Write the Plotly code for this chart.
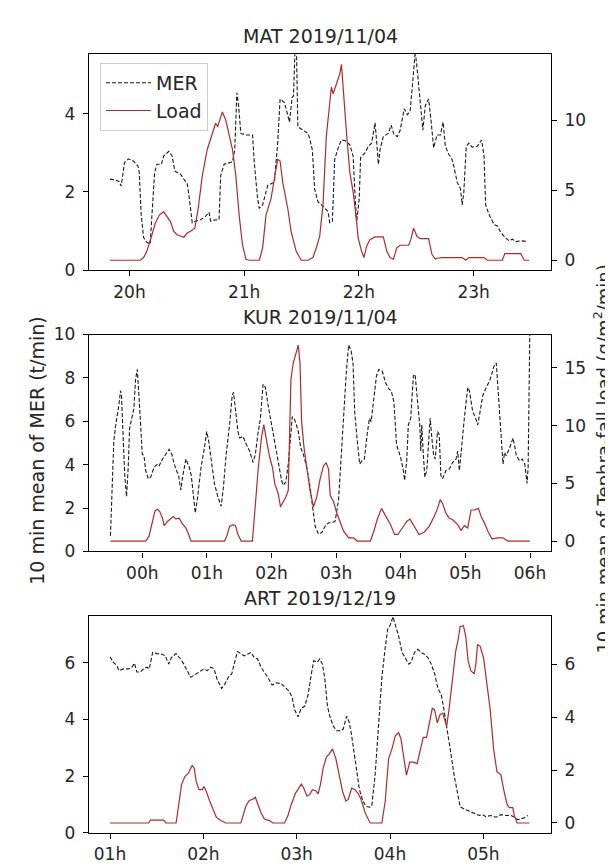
import plotly.graph_objects as go

# ---------------- data ----------------
titles = ["MAT 2019/11/04", "KUR 2019/11/04", "ART 2019/12/19"]

# MAT (hours of day)
mat_mer_t = [19.830,19.874,19.909,19.927,19.939,19.956,19.991,20.035,20.073,20.085,
             20.102,20.123,20.152,20.181,20.196,20.219,20.240,20.278,20.298,20.342,
             20.371,20.395,20.415,20.444,20.474,20.503,20.518,20.547,20.576,20.620,
             20.664,20.693,20.708,20.737,20.781,20.795,20.825,20.898,20.918,20.936,
             20.950,20.971,21.015,21.073,21.088,21.117,21.132,21.161,21.205,21.243,
             21.263,21.292,21.313,21.351,21.380,21.395,21.418,21.430,21.444,21.456,
             21.468,21.512,21.556,21.570,21.594,21.614,21.643,21.687,21.731,21.746,
             21.769,21.789,21.819,21.848,21.877,21.921,21.950,21.965,21.980,22.003,
             22.015,22.053,22.082,22.111,22.141,22.155,22.170,22.184,22.213,22.257,
             22.281,22.307,22.336,22.360,22.395,22.424,22.447,22.477,22.491,22.506,
             22.535,22.558,22.579,22.608,22.629,22.652,22.681,22.711,22.734,22.754,
             22.784,22.807,22.827,22.857,22.886,22.901,22.915,22.936,22.959,22.988,
             23.032,23.070,23.091,23.105,23.135,23.178,23.208,23.237,23.281,23.310,
             23.339,23.368,23.412,23.471]
mat_mer = [2.33,2.31,2.27,2.15,2.38,2.75,2.85,2.79,2.67,2.50,
           1.42,0.83,0.71,0.67,1.42,2.50,2.71,2.71,2.92,3.04,
           2.93,2.54,2.50,2.46,2.33,2.21,1.92,1.21,1.25,1.29,
           1.38,1.48,1.25,1.28,1.29,2.42,2.71,2.77,3.08,4.54,
           4.25,3.50,3.46,3.46,2.75,1.83,1.58,1.67,2.17,2.21,
           2.25,3.25,4.38,4.29,4.00,3.79,4.42,4.46,5.70,5.60,
           3.67,3.58,3.50,3.38,3.08,2.08,1.75,1.63,1.50,1.21,
           1.25,2.83,3.13,3.33,3.32,3.21,2.92,2.00,1.21,1.83,
           2.88,3.00,3.17,3.25,3.77,3.29,2.71,3.08,3.42,3.50,
           3.71,3.46,3.42,3.58,4.13,3.98,4.08,5.08,5.60,5.21,
           4.33,3.58,4.21,4.38,3.83,3.13,3.46,3.46,3.79,3.17,
           2.96,2.88,2.67,2.25,2.08,1.67,2.00,3.17,3.25,3.15,
           3.17,3.33,2.92,1.67,1.42,1.17,1.13,0.96,0.82,0.75,
           0.79,0.73,0.75,0.73]
mat_load_t = [19.830,20.094,20.123,20.152,20.196,20.225,20.260,20.298,20.327,20.357,
              20.386,20.415,20.474,20.503,20.532,20.570,20.599,20.635,20.678,20.722,
              20.751,20.769,20.787,20.810,20.839,20.868,20.898,20.927,20.956,20.985,
              21.015,21.044,21.132,21.161,21.190,21.234,21.263,21.292,21.313,21.336,
              21.380,21.409,21.453,21.497,21.556,21.599,21.629,21.658,21.687,21.716,
              21.760,21.775,21.804,21.833,21.848,21.863,21.892,21.921,21.950,21.974,
              21.994,22.023,22.044,22.067,22.096,22.141,22.213,22.243,22.272,22.301,
              22.330,22.360,22.433,22.453,22.477,22.506,22.535,22.608,22.637,22.667,
              22.681,22.725,22.901,22.930,22.959,23.091,23.120,23.251,23.272,23.412,
              23.442,23.485]
mat_load = [0,0,0.19,0.65,1.82,2.64,3.22,3.46,3.11,2.76,
            2.06,1.82,1.64,1.94,2.06,2.29,3.69,6.03,7.90,9.07,
            9.77,9.53,10.00,10.58,10.00,9.07,7.90,6.03,3.22,1.12,
            0.07,0,0,0.89,3.22,4.39,5.79,7.20,7.08,5.56,
            3.69,2.06,0.65,0,0,0.19,0.89,1.70,3.93,8.83,
            12.34,11.87,12.57,13.27,13.97,12.10,9.07,6.26,4.86,3.22,
            1.59,0.65,0.19,1.00,1.47,1.66,1.66,0.65,0.19,0.07,
            0.89,1.07,1.07,1.47,2.29,1.71,1.54,1.54,0.42,0.07,
            0.14,0.19,0.19,0,0.19,0.19,0,0,0.47,0.47,
            0,0]

# KUR (hours after midnight; negative = previous evening)
kur_mer_t = [-0.493,-0.467,-0.441,-0.415,-0.389,-0.363,-0.337,-0.322,-0.296,-0.270,
             -0.244,-0.218,-0.197,-0.156,-0.130,-0.104,-0.078,-0.052,-0.026,0.000,
             0.026,0.052,0.093,0.130,0.182,0.234,0.260,0.312,0.363,0.415,
             0.457,0.493,0.530,0.561,0.597,0.623,0.675,0.727,0.758,0.789,
             0.820,0.857,0.909,0.961,0.997,1.028,1.064,1.116,1.168,1.220,
             1.256,1.298,1.350,1.391,1.412,1.443,1.480,1.506,1.558,1.610,
             1.661,1.713,1.750,1.791,1.828,1.869,1.906,1.947,1.999,2.051,
             2.103,2.155,2.181,2.222,2.259,2.285,2.321,2.347,2.378,2.414,
             2.451,2.492,2.544,2.596,2.638,2.674,2.726,2.778,2.830,2.882,
             2.934,2.985,3.037,3.074,3.115,3.157,3.193,3.229,3.261,3.287,
             3.323,3.364,3.401,3.437,3.479,3.515,3.541,3.583,3.624,3.660,
             3.712,3.764,3.816,3.852,3.894,3.935,3.972,3.998,4.040,4.060,
             4.092,4.117,4.154,4.195,4.221,4.258,4.294,4.310,4.325,4.346,
             4.372,4.403,4.429,4.455,4.481,4.507,4.533,4.569,4.595,4.621,
             4.647,4.699,4.751,4.803,4.855,4.881,4.907,4.943,4.984,5.036,
             5.062,5.114,5.151,5.192,5.234,5.270,5.322,5.374,5.400,5.442,
             5.478,5.504,5.545,5.582,5.607,5.633,5.685,5.737,5.763,5.789,
             5.841,5.877,5.919,5.955,5.971,5.997]
kur_mer = [0.72,2.68,5.08,5.76,6.21,6.74,7.41,7.19,5.23,3.43,
           2.53,3.88,5.68,6.29,6.59,7.94,8.39,7.19,5.68,4.48,
           4.41,3.73,3.35,3.43,3.88,4.03,3.95,4.26,4.48,4.71,
           4.48,4.03,3.73,3.50,2.83,3.43,4.26,3.88,3.50,2.68,
           1.77,2.53,3.88,4.78,5.53,5.08,4.18,3.13,2.53,2.08,
           2.98,4.48,5.83,7.19,7.34,6.44,5.53,5.23,5.31,4.93,
           4.63,4.11,4.48,5.46,6.14,7.71,7.56,6.74,5.83,5.08,
           4.18,3.28,3.05,3.20,4.03,5.08,6.21,6.14,5.91,5.53,
           4.78,4.48,3.88,2.98,2.08,1.17,0.80,0.87,1.17,1.32,
           1.32,1.40,2.38,4.18,6.59,8.24,9.52,9.29,8.69,6.44,
           5.23,4.03,4.18,4.26,5.38,6.14,5.98,7.19,8.09,8.39,
           8.32,7.79,7.49,7.41,6.89,4.93,4.63,4.33,3.73,3.28,
           4.18,5.83,6.14,8.09,8.17,7.04,5.83,4.63,5.83,4.63,
           3.43,3.73,5.23,6.14,5.23,4.48,4.26,5.53,5.38,3.50,
           3.35,3.73,3.80,4.11,4.26,4.63,3.73,4.93,6.14,7.56,
           7.41,6.44,6.21,5.83,6.66,7.19,7.56,7.86,8.09,8.54,
           8.69,7.64,5.83,4.03,4.56,4.41,4.78,5.23,4.86,4.41,
           4.18,4.26,4.03,3.13,3.88,10.0]
kur_load_t = [-0.493,0.052,0.104,0.156,0.197,0.234,0.270,0.312,0.337,0.389,
              0.441,0.478,0.519,0.571,0.613,0.675,0.717,0.753,1.272,1.308,
              1.350,1.402,1.443,1.480,1.532,1.703,1.739,1.791,1.843,1.880,
              1.921,1.973,2.015,2.051,2.103,2.139,2.181,2.222,2.259,2.300,
              2.336,2.378,2.414,2.440,2.466,2.503,2.544,2.596,2.648,2.700,
              2.752,2.804,2.845,2.882,2.908,2.960,3.011,3.063,3.115,3.193,
              3.271,3.323,3.530,3.583,3.634,3.702,3.764,3.842,3.904,3.956,
              4.024,4.092,4.143,4.180,4.232,4.283,4.361,4.439,4.517,4.569,
              4.611,4.647,4.699,4.751,4.803,4.881,4.933,4.984,5.036,5.088,
              5.140,5.202,5.244,5.296,5.348,5.410,5.504,5.582,5.659,5.997]
kur_load = [0,0,0.42,1.56,2.63,2.75,2.55,1.98,1.33,1.70,
            1.98,2.12,1.92,1.98,1.56,1.13,0.57,0,0,0.42,
            1.27,1.42,1.33,0.57,0,0,2.41,6.09,8.92,10.10,
            8.77,7.22,6.37,4.95,4.10,2.97,3.40,3.82,4.39,14.01,
            15.43,16.27,16.98,15.43,10.33,8.07,6.37,4.39,2.97,3.82,
            5.38,6.51,6.79,6.23,3.96,3.40,2.41,1.56,0.85,0.28,
            0.28,0,0,0.85,1.84,2.83,2.26,1.42,0.57,0.57,
            1.13,1.70,1.90,1.56,0.99,0.57,0.76,1.27,2.12,2.83,
            3.59,3.26,2.41,1.98,1.84,1.42,0.93,1.33,1.13,2.69,
            2.69,2.83,2.12,1.56,0.85,0.20,0.28,0.28,0,0]

# ART (hours of day)
art_mer_t = [1.000,1.036,1.072,1.097,1.144,1.198,1.234,1.262,1.288,1.324,
             1.360,1.396,1.421,1.457,1.503,1.557,1.593,1.629,1.658,1.708,
             1.755,1.791,1.827,1.863,1.899,1.953,2.007,2.043,2.079,2.115,
             2.151,2.197,2.233,2.269,2.305,2.330,2.366,2.402,2.438,2.474,
             2.510,2.546,2.582,2.618,2.654,2.690,2.737,2.780,2.834,2.870,
             2.924,2.953,2.978,3.014,3.050,3.086,3.122,3.158,3.183,3.219,
             3.247,3.276,3.301,3.330,3.355,3.391,3.427,3.463,3.499,3.535,
             3.564,3.589,3.614,3.643,3.672,3.708,3.744,3.780,3.805,3.841,
             3.877,3.913,3.949,3.974,4.003,4.032,4.057,4.093,4.129,4.165,
             4.201,4.226,4.262,4.298,4.334,4.370,4.406,4.442,4.478,4.514,
             4.550,4.578,4.614,4.650,4.686,4.722,4.751,4.794,4.848,4.902,
             4.956,4.992,5.028,5.082,5.136,5.190,5.244,5.298,5.334,5.370,
             5.406,5.442,5.478]
art_mer = [6.21,6.01,5.90,5.72,5.78,5.78,5.84,5.98,5.67,5.67,
           5.78,5.84,5.78,6.36,6.32,6.30,6.24,5.95,6.18,6.32,
           6.13,5.95,5.72,5.49,5.55,5.67,5.78,5.72,5.84,5.78,
           5.38,5.09,5.26,5.49,5.61,5.95,6.39,6.32,6.24,6.30,
           6.36,6.18,6.13,5.84,5.67,5.49,5.21,5.29,5.26,5.15,
           4.98,4.75,4.34,4.09,4.40,4.46,4.86,5.61,6.07,6.01,
           6.13,5.95,5.45,4.46,4.11,3.77,3.60,3.60,3.66,4.11,
           3.89,3.43,2.85,2.16,1.53,1.13,0.93,0.90,0.95,2.05,
           3.77,5.49,6.53,7.16,7.33,7.62,7.33,6.93,6.36,6.13,
           5.95,6.01,6.36,6.47,6.36,6.30,6.18,5.95,5.61,5.09,
           4.86,4.34,3.66,2.85,2.05,1.36,0.92,0.84,0.76,0.67,
           0.61,0.64,0.57,0.61,0.55,0.64,0.61,0.61,0.55,0.46,
           0.49,0.53,0.61]
art_load_t = [1.000,1.414,1.432,1.575,1.600,1.708,1.737,1.766,1.802,1.838,
              1.856,1.881,1.903,1.924,1.953,1.989,2.007,2.032,2.068,2.104,
              2.140,2.187,2.241,2.402,2.428,2.456,2.492,2.528,2.557,2.582,
              2.618,2.654,2.708,2.744,2.870,2.906,2.942,2.988,3.024,3.050,
              3.075,3.111,3.140,3.168,3.204,3.229,3.254,3.283,3.319,3.348,
              3.384,3.420,3.456,3.492,3.528,3.553,3.589,3.625,3.661,3.697,
              3.733,3.769,3.787,3.913,3.949,3.985,4.021,4.057,4.093,4.118,
              4.147,4.176,4.212,4.248,4.291,4.327,4.356,4.392,4.428,4.453,
              4.478,4.507,4.536,4.565,4.586,4.607,4.632,4.668,4.704,4.730,
              4.751,4.787,4.812,4.837,4.866,4.902,4.920,4.938,4.966,5.002,
              5.038,5.074,5.110,5.146,5.171,5.189,5.218,5.254,5.279,5.315,
              5.333,5.362,5.495]
art_load = [0,0,0.11,0.11,0,0,0.70,1.44,1.75,1.87,
            2.00,2.18,2.06,1.56,1.26,1.26,1.38,1.19,0.83,0.52,
            0.21,0.09,0,0,0.33,0.64,0.85,0.89,0.97,0.70,
            0.39,0.15,0.09,0,0,0.27,0.70,1.13,1.32,1.47,
            1.32,1.01,1.07,1.26,1.22,1.10,1.44,2.05,2.50,2.60,
            2.80,2.43,1.81,1.19,0.83,0.89,1.32,1.26,1.10,0.83,
            0.39,0.09,0,0,0.83,2.43,2.80,3.29,3.41,3.17,
            2.43,1.81,2.30,2.30,2.24,2.80,3.23,3.23,3.90,4.33,
            4.27,3.78,4.09,4.15,3.90,3.66,4.27,5.50,6.49,6.92,
            7.41,7.45,7.04,6.12,5.75,5.63,6.00,6.74,6.67,6.24,
            5.26,4.27,2.80,1.93,1.87,1.81,1.26,0.70,0.58,0.58,
            0.27,0,0]

# axis ticks
mat_xticks = [20, 21, 22, 23]
mat_xlabels = ["20h", "21h", "22h", "23h"]
kur_xticks = [0, 1, 2, 3, 4, 5, 6]
kur_xlabels = ["00h", "01h", "02h", "03h", "04h", "05h", "06h"]
art_xticks = [1, 2, 3, 4, 5]
art_xlabels = ["01h", "02h", "03h", "04h", "05h"]

# ---------------- figure ----------------
W, H = 613, 868
FONT = "DejaVu Sans"
TXT = "#262626"
RED = "#b22a2a"

panels = [
    dict(mt=mat_mer_t, mv=mat_mer, lt=mat_load_t, lv=mat_load,
         xt=mat_xticks, xl=mat_xlabels, xr=[19.647, 23.675],
         yr=[0, 5.53], yt=[0, 2, 4], y2r=[-0.70, 14.70], y2t=[0, 5, 10], top=37, bot=258),
    dict(mt=kur_mer_t, mv=kur_mer, lt=kur_load_t, lv=kur_load,
         xt=kur_xticks, xl=kur_xlabels, xr=[-0.825, 6.325],
         yr=[0, 10], yt=[0, 2, 4, 6, 8, 10], y2r=[-0.90, 17.90], y2t=[0, 5, 10, 15], top=324, bot=546),
    dict(mt=art_mer_t, mv=art_mer, lt=art_load_t, lv=art_load,
         xt=art_xticks, xl=art_xlabels, xr=[0.775, 5.725],
         yr=[0, 7.65], yt=[0, 2, 4, 6], y2r=[-0.37, 7.82], y2t=[0, 2, 4, 6], top=612, bot=834),
]

XL, XR = 81, 543
xdom = [XL / W, XR / W]

fig = go.Figure()
layout = {}
annotations = []

axis_common = dict(showline=True, linecolor="black", linewidth=1.3, ticks="outside",
                   ticklen=5, tickwidth=1.2, tickcolor="black", showgrid=False, zeroline=False,
                   tickfont=dict(family=FONT, size=17, color=TXT))

for i, p in enumerate(panels):
    xa = "x" if i == 0 else f"x{i+1}"
    ya1 = "y" if i == 0 else f"y{2*i+1}"
    ya2 = f"y{2*i+2}"
    xkey = "xaxis" if i == 0 else f"xaxis{i+1}"
    y1key = "yaxis" if i == 0 else f"yaxis{2*i+1}"
    y2key = f"yaxis{2*i+2}"
    ydom = [1 - p["bot"] / H, 1 - p["top"] / H]

    fig.add_trace(go.Scatter(x=p["mt"], y=p["mv"], mode="lines", name="MER",
                             line=dict(color="#1a1a1a", width=1.1, dash="4px,2px"),
                             xaxis=xa, yaxis=ya1, showlegend=(i == 0)))
    fig.add_trace(go.Scatter(x=p["lt"], y=p["lv"], mode="lines", name="Load",
                             line=dict(color=RED, width=1.2),
                             xaxis=xa, yaxis=ya2, showlegend=(i == 0)))

    layout[xkey] = dict(axis_common, domain=xdom, anchor=ya1, range=p["xr"],
                        tickmode="array", tickvals=p["xt"], ticktext=p["xl"], mirror=True,
                        ticklabelstandoff=1)
    layout[y1key] = dict(axis_common, domain=ydom, anchor=xa, range=p["yr"],
                         tickmode="array", tickvals=p["yt"], ticklabelstandoff=4)
    layout[y2key] = dict(axis_common, overlaying=ya1, side="right", anchor=xa,
                         range=p["y2r"], tickmode="array", tickvals=p["y2t"],
                         ticklabelstandoff=4)

    annotations.append(dict(text=titles[i], xref="paper", yref="paper",
                            x=(xdom[0] + xdom[1]) / 2, y=ydom[1], xanchor="center",
                            yanchor="bottom", yshift=5, showarrow=False,
                            font=dict(family=FONT, size=19, color=TXT)))

annotations.append(dict(text="10 min mean of MER (t/min)", xref="paper", yref="paper",
                        x=29 / W, y=1 - 443 / H, xanchor="center", yanchor="middle",
                        textangle=-90, showarrow=False,
                        font=dict(family=FONT, size=19, color=TXT)))
annotations.append(dict(text="10 min mean of Tephra-fall load (g/m<sup>2</sup>/min)",
                        xref="paper", yref="paper",
                        x=594 / W, y=1 - 452 / H, xanchor="center", yanchor="middle",
                        textangle=-90, showarrow=False,
                        font=dict(family=FONT, size=18, color=TXT)))

fig.update_layout(
    width=W, height=H,
    margin=dict(l=0, r=0, t=0, b=0),
    paper_bgcolor="white", plot_bgcolor="white",
    font=dict(family=FONT, color=TXT),
    showlegend=True,
    legend=dict(x=92 / W, y=1 - 46 / H, xanchor="left", yanchor="top",
                bgcolor="rgba(255,255,255,0.85)", bordercolor="#cccccc", borderwidth=1,
                font=dict(family=FONT, size=19, color=TXT), itemwidth=45,
                tracegroupgap=4),
    annotations=annotations,
    **layout,
)

fig.write_html("out.html")
